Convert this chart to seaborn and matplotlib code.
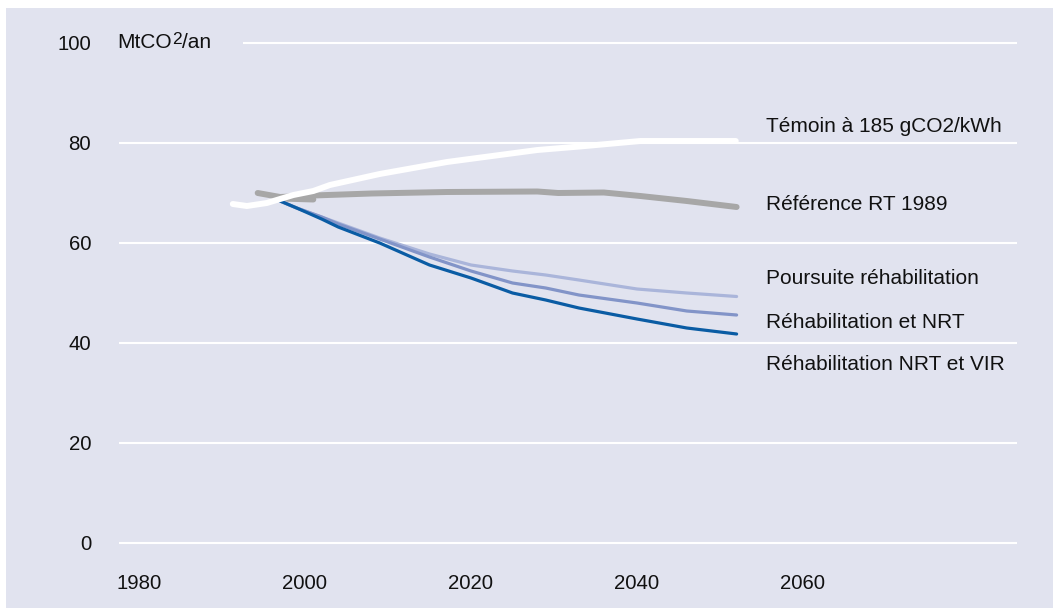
import matplotlib
matplotlib.use("Agg")
import matplotlib.pyplot as plt
import seaborn as sns
from matplotlib.patches import Rectangle
from matplotlib.transforms import offset_copy

# ---------------- data ----------------
temoin_years = [1991.3, 1993.0, 1995.4, 1998.6, 2001.0, 2003.0, 2009.0, 2017.1, 2028.0, 2033.1, 2040.4, 2051.9]
temoin_vals = [67.8, 67.4, 68.0, 69.6, 70.4, 71.6, 73.8, 76.2, 78.6, 79.3, 80.4, 80.4]

ref_years = [1994.3, 1997.0, 2001.0, 2008.0, 2017.1, 2028.0, 2030.5, 2036.0, 2040.4, 2046.0, 2052.0]
ref_vals = [70.0, 69.2, 69.5, 69.9, 70.2, 70.3, 70.0, 70.1, 69.4, 68.4, 67.2]
ref_stub_years = [1997.0, 2001.0]
ref_stub_vals = [68.9, 68.7]

blue_years = [1997, 1999, 2002, 2004, 2009, 2015, 2020, 2025, 2029, 2033, 2040, 2046, 2052]
vir_vals = [68.4, 67.0, 64.8, 63.2, 60.0, 55.6, 53.0, 50.0, 48.6, 47.0, 44.8, 43.0, 41.8]
nrt_vals = [68.4, 67.0, 65.2, 63.8, 60.8, 57.2, 54.4, 52.0, 51.0, 49.6, 48.0, 46.4, 45.6]
pours_vals = [68.4, 67.0, 65.2, 64.0, 61.0, 57.8, 55.6, 54.4, 53.6, 52.6, 50.8, 50.0, 49.3]

series_labels = ["Témoin à 185 gCO2/kWh", "Référence RT 1989", "Poursuite réhabilitation",
                 "Réhabilitation et NRT", "Réhabilitation NRT et VIR"]
label_y = [83.2, 67.6, 53.0, 44.2, 35.6]
x_ticks = [1980, 2000, 2020, 2040, 2060]
y_ticks = [0, 20, 40, 60, 80, 100]
unit_parts = ["MtCO", "2", "/an"]

# ---------------- style ----------------
BG = "#e1e3ef"
TXT = "#111111"
sns.set_theme(style="white")
plt.rcParams["font.family"] = ["Liberation Sans", "DejaVu Sans"]

W, H = 1053, 608
fig = plt.figure(figsize=(W / 100, H / 100), dpi=100, facecolor="white")
fig.patches.append(Rectangle((6 / W, 0), 1, (H - 8) / H, transform=fig.transFigure,
                             facecolor=BG, edgecolor="none", zorder=-10))

ax = fig.add_axes([119 / W, 40 / H, (1017 - 119) / W, 550 / H])
ax.set_facecolor(BG)
for s in ax.spines.values():
    s.set_visible(False)

px_per_year = 8.3
x0 = 1980 - 20 / px_per_year
x1 = 1980 + (1017 - 139) / px_per_year
ax.set_xlim(x0, x1)
ax.set_ylim(-5, 105)

for yv in y_ticks:
    start = 1980 + (243 - 139) / px_per_year if yv == 100 else x0
    ax.hlines(yv, start, x1, color="white", lw=1.5, zorder=1)

sns.lineplot(x=ref_years, y=ref_vals, ax=ax, color="#a7a7a7", lw=4.3, zorder=2, sort=False)
sns.lineplot(x=ref_stub_years, y=ref_stub_vals, ax=ax, color="#a7a7a7", lw=4.3, zorder=2, sort=False)
sns.lineplot(x=blue_years, y=pours_vals, ax=ax, color="#aab5da", lw=2.3, zorder=3)
sns.lineplot(x=blue_years, y=nrt_vals, ax=ax, color="#8294c8", lw=2.3, zorder=4)
sns.lineplot(x=blue_years, y=vir_vals, ax=ax, color="#0a5ca4", lw=2.3, zorder=5)
sns.lineplot(x=temoin_years, y=temoin_vals, ax=ax, color="white", lw=4.3, zorder=6, sort=False)

lx = 1980 + (766 - 139) / px_per_year
for lab, yv in zip(series_labels, label_y):
    ax.text(lx, yv, lab, fontsize=15, color=TXT, va="center", ha="left")

# unit label built from parts (superscript 2)
renderer = fig.canvas.get_renderer()
ux = 1980 + (117 - 139) / px_per_year
t1 = ax.text(ux, 100, unit_parts[0], fontsize=15, color=TXT, va="baseline", ha="left",
             transform=offset_copy(ax.transData, fig=fig, x=0, y=-5, units="dots"))
w1 = t1.get_window_extent(renderer).width
t2 = ax.text(ux, 100, unit_parts[1], fontsize=12.5, color=TXT, va="baseline", ha="left",
             transform=offset_copy(ax.transData, fig=fig, x=w1 + 0.5, y=-1, units="dots"))
w2 = t2.get_window_extent(renderer).width
ax.text(ux, 100, unit_parts[2], fontsize=15, color=TXT, va="baseline", ha="left",
        transform=offset_copy(ax.transData, fig=fig, x=w1 + w2 + 0.5, y=-5, units="dots"))

ax.set_xticks(x_ticks)
ax.set_xticklabels([str(v) for v in x_ticks])
ax.set_yticks(y_ticks)
ax.set_yticklabels([str(v) for v in y_ticks])
ax.tick_params(axis="both", length=0, labelsize=14.7, colors=TXT)
ax.tick_params(axis="y", pad=20)
ax.tick_params(axis="x", pad=4)
ax.set_xlabel("")
ax.set_ylabel("")

fig.savefig("out.png", dpi=100, facecolor=fig.get_facecolor())
